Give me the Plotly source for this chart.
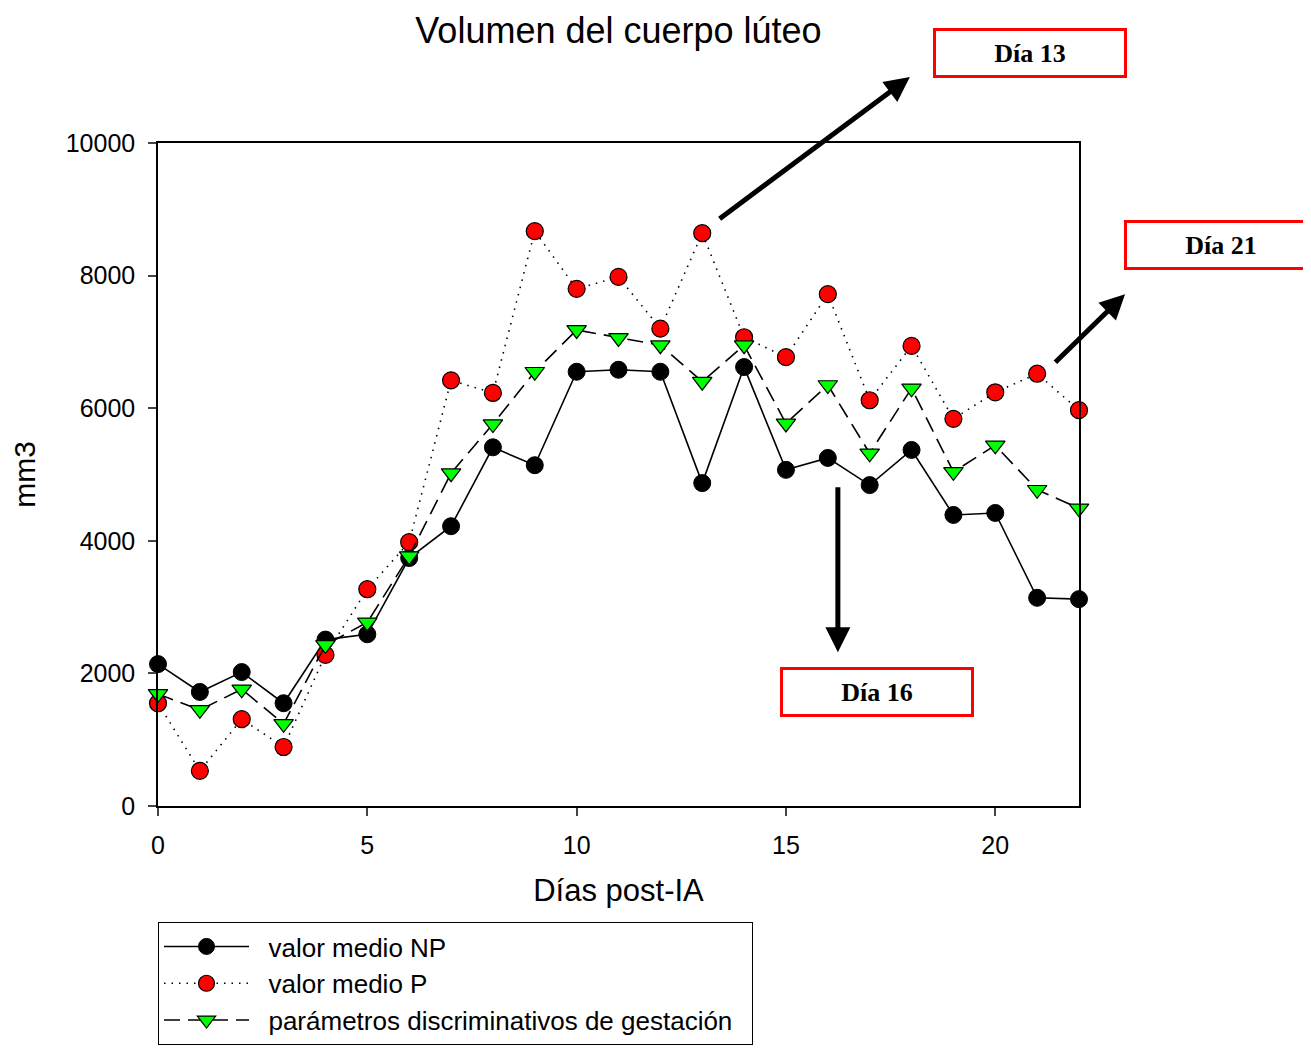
import plotly.graph_objects as go

dias = list(range(23))
np_vals = [2140, 1720, 2020, 1550, 2510, 2590, 3740, 4220, 5410, 5140, 6550, 6580, 6550,
           4870, 6620, 5070, 5250, 4840, 5370, 4390, 4420, 3140, 3120]
p_vals = [1550, 530, 1310, 890, 2280, 3270, 3980, 6420, 6230, 8670, 7800, 7980, 7200,
          8640, 7070, 6770, 7720, 6120, 6940, 5840, 6240, 6520, 5970]
disc_vals = [1690, 1450, 1760, 1240, 2430, 2770, 3770, 5020, 5760, 6550, 7180, 7060, 6950,
             6400, 6950, 5770, 6350, 5320, 6300, 5040, 5440, 4770, 4490]

nombres = ["valor medio NP", "valor medio P", "parámetros discriminativos de gestación"]
x_ticks = [0, 5, 10, 15, 20]
y_ticks = [0, 2000, 4000, 6000, 8000, 10000]
y_ticktext = ["0", "2000", "4000", "6000", "8000", "10000"]

pad = "\u00a0\u00a0"

fig = go.Figure()
fig.add_trace(go.Scatter(
    x=dias, y=np_vals, name=pad + nombres[0], mode="lines+markers", cliponaxis=False,
    line=dict(color="black", width=1.6),
    marker=dict(symbol="circle", size=17, color="black", line=dict(color="black", width=1))))
fig.add_trace(go.Scatter(
    x=dias, y=p_vals, name=pad + nombres[1], mode="lines+markers", cliponaxis=False,
    line=dict(color="black", width=1.6, dash="1.5px,6px"),
    marker=dict(symbol="circle", size=17, color="#ff0000", line=dict(color="black", width=1.2))))
fig.add_trace(go.Scatter(
    x=dias, y=disc_vals, name=pad + nombres[2] + pad, mode="lines+markers", cliponaxis=False,
    line=dict(color="black", width=1.6, dash="16px,8px"),
    marker=dict(symbol="triangle-down", size=17, color="#00ff00", line=dict(color="black", width=1.2))))

box_font = dict(family="Liberation Serif", size=26, color="black")
# Label boxes (paper coordinates)
for txt, xp, yp in [("<b>Día 13</b>", 0.9463, 1.1365),
                    ("<b>Día 21</b>", 1.1547, 0.8469),
                    ("<b>Día 16</b>", 0.7812, 0.1712)]:
    fig.add_annotation(x=xp, y=yp, xref="paper", yref="paper", text=txt, showarrow=False,
                       font=box_font, bordercolor="#ff0000", borderwidth=3, borderpad=2,
                       width=184, height=40, bgcolor="white", xanchor="center", yanchor="middle")

# Arrows (data coordinates)
for (x0, y0, x1, y1) in [(13.38, 8840, 17.96, 10995),
                         (21.40, 6670, 23.10, 7720),
                         (16.24, 4830, 16.24, 2320)]:
    fig.add_annotation(x=x1, y=y1, ax=x0, ay=y0, xref="x", yref="y", axref="x", ayref="y",
                       text="", showarrow=True, arrowhead=2, arrowsize=1.0, arrowwidth=5,
                       arrowcolor="black")

axis_font = dict(family="Liberation Sans", size=25, color="black")
fig.update_layout(
    width=1311, height=1050,
    margin=dict(l=150, r=240, t=135, b=252),
    paper_bgcolor="white", plot_bgcolor="white",
    title=dict(text="Volumen del cuerpo lúteo", x=(150 + 921 / 2) / 1311, xanchor="center",
               y=1 - 22 / 1050, yanchor="middle",
               font=dict(family="Liberation Sans", size=36, color="black")),
    showlegend=True,
    legend=dict(x=0, y=-0.175, xanchor="left", yanchor="top", bordercolor="black", borderwidth=1,
                font=dict(family="Liberation Sans", size=26, color="black"), bgcolor="white",
                tracegroupgap=0, itemwidth=85),
    font=axis_font,
)
fig.update_xaxes(range=[0, 22], tickvals=x_ticks, ticks="outside", ticklen=8, tickwidth=1.5,
                 showline=True, linecolor="black", linewidth=1.5, mirror=True, showgrid=False,
                 zeroline=False, tickfont=axis_font, ticklabelstandoff=8,
                 title=dict(text="Días post-IA", font=dict(family="Liberation Sans", size=31), standoff=22))
fig.update_yaxes(range=[0, 10000], tickvals=y_ticks, ticktext=y_ticktext, ticks="outside", ticklen=8,
                 tickwidth=1.5, showline=True, linecolor="black", linewidth=1.5, mirror=True,
                 showgrid=False, zeroline=False, tickfont=axis_font, ticklabelstandoff=8,
                 title=dict(text="mm3", font=dict(family="Liberation Sans", size=30), standoff=25))

fig.write_html("out.html")
